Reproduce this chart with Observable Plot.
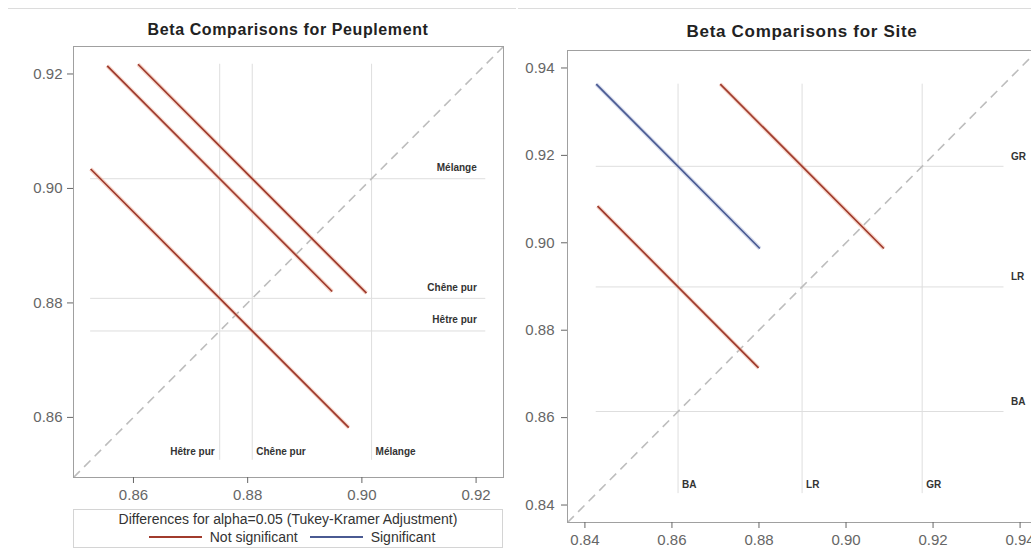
<!DOCTYPE html>
<html><head><meta charset="utf-8">
<script src="https://cdn.jsdelivr.net/npm/d3@7"></script>
<script src="https://cdn.jsdelivr.net/npm/@observablehq/plot@0.6"></script>
<style>
body{margin:0;background:#fff;font-family:Arial,"Liberation Sans",sans-serif;}
#wrap{position:relative;width:1031px;height:552px;overflow:hidden;background:#fff;}
.topline{position:absolute;top:8px;height:1px;background:#dcdcdc;z-index:2;}
.title{position:absolute;font-weight:bold;line-height:18px;color:#222;text-align:center;z-index:3;}
.svgbox{position:absolute;top:0;z-index:1;}
.svgbox svg{max-width:none !important;}
#legend{position:absolute;left:73px;top:509px;width:428px;height:37px;border:1px solid #d4d4d4;font-size:14px;color:#333;text-align:center;z-index:3;background:#fff;}
#legend .l1{line-height:18px;margin-top:0px;}
#legend .l2{display:flex;justify-content:center;align-items:center;line-height:18px;}
#legend .sw{display:inline-block;width:53px;height:2px;margin:0 8px;}
</style></head>
<body><div id="wrap">
<div class="topline" style="left:8px;width:508px"></div>
<div class="topline" style="left:518px;width:513px"></div>
<div class="title" style="left:73px;width:430px;top:21px;font-size:16px;letter-spacing:0.6px">Beta Comparisons for Peuplement</div>
<div class="title" style="left:567px;width:470px;top:23px;font-size:17px;letter-spacing:0.7px">Beta Comparisons for Site</div>
<div class="svgbox" id="left" style="left:0px;width:515px;height:505px"></div>
<div class="svgbox" id="right" style="left:515px;width:530px;height:560px"></div>
<div id="legend"><div class="l1">Differences for alpha=0.05 (Tukey-Kramer Adjustment)</div>
<div class="l2"><span class="sw" style="background:#a13b2c"></span>Not significant<span class="sw" style="background:#4a5a92;margin-left:12px"></span>Significant</div></div>
</div>
<script>
// ---- Peuplement ----
const peupLevels = ["Hêtre pur", "Chêne pur", "Mélange"];
const peupMeans = [0.8751, 0.8808, 0.9017];
const peupPairX = ["Hêtre pur", "Chêne pur", "Hêtre pur"];
const peupPairY = ["Mélange", "Mélange", "Chêne pur"];
const peupHalfWidth = [0.0197, 0.0200, 0.0226];
const peupSignificant = [false, false, false];
const peupTicks = [0.86, 0.88, 0.90, 0.92];
const peupDomain = [0.8495, 0.9248];

// ---- Site ----
const siteLevels = ["BA", "LR", "GR"];
const siteMeans = [0.8614, 0.8899, 0.9175];
const sitePairX = ["BA", "LR", "BA"];
const sitePairY = ["GR", "GR", "LR"];
const siteHalfWidth = [0.0188, 0.0188, 0.0185];
const siteSignificant = [true, false, false];
const siteTicks = [0.84, 0.86, 0.88, 0.90, 0.92, 0.94];
const siteDomain = [0.836, 0.944];

const RED = "#9e3a2c", RED_HALO = "#f0b9a6";
const BLUE = "#4a5a92", BLUE_HALO = "#b9c2e0";

function diffogram({levels, means, pairX, pairY, half, sig, ticks, domain, width, height, margins, rightLabel, yPad}) {
  const mean = new Map(levels.map((l, i) => [l, means[i]]));
  const segs = pairX.map((a, i) => {
    const mx = mean.get(a), my = mean.get(pairY[i]), h = half[i];
    return {x1: mx - h, y1: my + h, x2: mx + h, y2: my - h, sig: sig[i]};
  });
  const ends = segs.flatMap(s => [s.x1, s.x2, s.y1, s.y2]);
  const refMin = d3.min(ends), refMax = d3.max(ends);
  const lv = levels.map((l, i) => ({level: l, m: means[i], next: means[i + 1]}));
  const crowded = d => d.next !== undefined && d.next - d.m < 0.01;
  const leftSide = lv.filter(crowded);
  const rightSide = lv.filter(d => !crowded(d));
  const fmt = d3.format(".2f");
  const lab = {fontSize: 10, fontWeight: "bold", fill: "#333"};
  return Plot.plot({
    width, height, ...margins,
    style: {fontFamily: "Arial, 'Liberation Sans', sans-serif", fontSize: "15px", color: "#666", background: "#fff", maxWidth: "none"},
    x: {domain, ticks, tickFormat: fmt, label: null},
    y: {domain, ticks, tickFormat: fmt, label: null},
    marks: [
      Plot.ruleX(lv, {x: "m", y1: refMin, y2: refMax, stroke: "#dedede", strokeWidth: 1}),
      Plot.ruleY(lv, {y: "m", x1: refMin, x2: refMax, stroke: "#dedede", strokeWidth: 1}),
      Plot.link([domain], {x1: d => d[0], y1: d => d[0], x2: d => d[1], y2: d => d[1], stroke: "#bdbdbd", strokeWidth: 1.6, strokeDasharray: "9,6"}),
      Plot.link(segs, {x1: "x1", y1: "y1", x2: "x2", y2: "y2", stroke: d => d.sig ? BLUE_HALO : RED_HALO, strokeWidth: 4, strokeOpacity: 0.6}),
      Plot.link(segs, {x1: "x1", y1: "y1", x2: "x2", y2: "y2", stroke: d => d.sig ? BLUE : RED, strokeWidth: 1.7}),
      rightLabel
        ? Plot.text(lv, {x: refMax, y: "m", text: "level", textAnchor: "start", dx: 7, dy: -10, ...lab})
        : Plot.text(lv, {x: refMax, y: "m", text: "level", textAnchor: "end", dx: -9, dy: -11, ...lab}),
      Plot.text(rightSide, {x: "m", y: refMin, text: "level", textAnchor: "start", dx: 4, dy: -9, ...lab}),
      Plot.text(leftSide, {x: "m", y: refMin, text: "level", textAnchor: "end", dx: -5, dy: -9, ...lab}),
      Plot.frame({stroke: "#a0a0a0"}),
      Plot.axisX({ticks, tickFormat: fmt, tickSize: 6, tickPadding: 6, label: null}),
      Plot.axisY({ticks, tickFormat: fmt, tickSize: 6, tickPadding: yPad, label: null})
    ]
  });
}

document.getElementById("left").append(diffogram({
  levels: peupLevels, means: peupMeans, pairX: peupPairX, pairY: peupPairY,
  half: peupHalfWidth, sig: peupSignificant, ticks: peupTicks, domain: peupDomain,
  width: 515, height: 505,
  margins: {marginLeft: 73, marginRight: 12, marginTop: 46, marginBottom: 28},
  rightLabel: false, yPad: 5
}));
document.getElementById("right").append(diffogram({
  levels: siteLevels, means: siteMeans, pairX: sitePairX, pairY: sitePairY,
  half: siteHalfWidth, sig: siteSignificant, ticks: siteTicks, domain: siteDomain,
  width: 530, height: 560,
  margins: {marginLeft: 52, marginRight: 8, marginTop: 50, marginBottom: 38},
  rightLabel: true, yPad: 7
}));
</script>
</body></html>
